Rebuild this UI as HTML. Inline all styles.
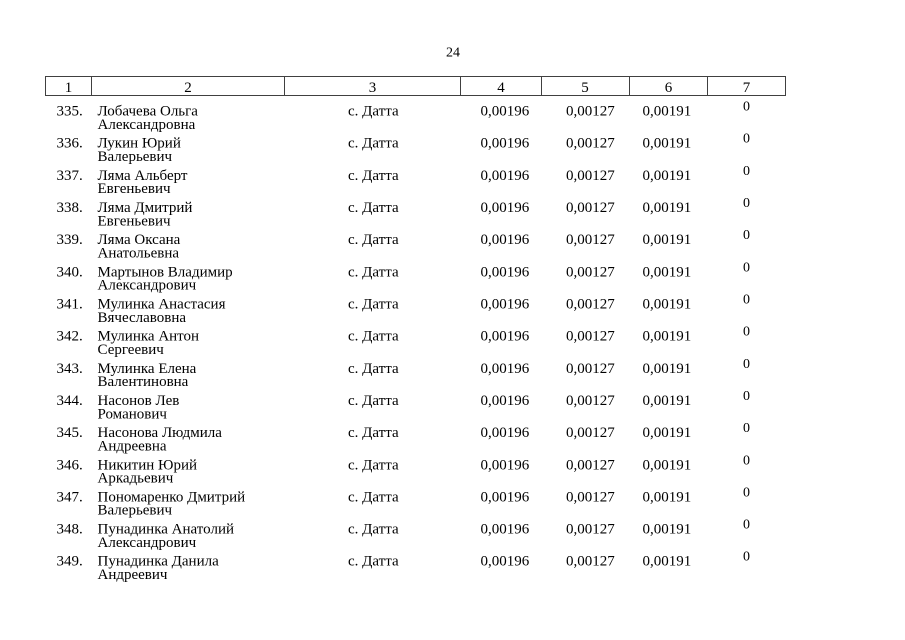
<!DOCTYPE html>
<html><head><meta charset="utf-8"><style>
html,body{margin:0;padding:0;background:#fff;}
svg{display:block;}
text{font-family:"Liberation Serif","Times New Roman",serif;fill:#000;}
</style></head><body>
<svg width="905" height="640" viewBox="0 0 905 640" xmlns="http://www.w3.org/2000/svg">
<rect x="0" y="0" width="905" height="640" fill="#fff"/>
<text x="446" y="56.5" font-size="14">24</text>
<g stroke="#404040" stroke-width="1" fill="none">
<rect x="45.5" y="76.5" width="740" height="19"/>
<line x1="91.5" y1="76.5" x2="91.5" y2="95.5"/>
<line x1="284.5" y1="76.5" x2="284.5" y2="95.5"/>
<line x1="460.5" y1="76.5" x2="460.5" y2="95.5"/>
<line x1="541.5" y1="76.5" x2="541.5" y2="95.5"/>
<line x1="629.5" y1="76.5" x2="629.5" y2="95.5"/>
<line x1="707.5" y1="76.5" x2="707.5" y2="95.5"/>
</g>
<g font-size="15" text-anchor="middle">
<text x="68.5" y="92">1</text>
<text x="188" y="92">2</text>
<text x="372.5" y="92">3</text>
<text x="501" y="92">4</text>
<text x="585" y="92">5</text>
<text x="668.5" y="92">6</text>
<text x="746.5" y="92">7</text>
</g>

<g font-size="15">
<g transform="translate(0,115.5)"><text x="56.5" y="0">335.</text><text x="97.5" y="0">Лобачева Ольга</text><text x="97.5" y="13.3">Александровна</text><text x="348" y="0">с. Датта</text><text x="480.5" y="0">0,00196</text><text x="566" y="0">0,00127</text><text x="642.5" y="0">0,00191</text><text x="743" y="-5" font-size="14">0</text></g>
<g transform="translate(0,147.7)"><text x="56.5" y="0">336.</text><text x="97.5" y="0">Лукин Юрий</text><text x="97.5" y="13.3">Валерьевич</text><text x="348" y="0">с. Датта</text><text x="480.5" y="0">0,00196</text><text x="566" y="0">0,00127</text><text x="642.5" y="0">0,00191</text><text x="743" y="-5" font-size="14">0</text></g>
<g transform="translate(0,179.8)"><text x="56.5" y="0">337.</text><text x="97.5" y="0">Ляма Альберт</text><text x="97.5" y="13.3">Евгеньевич</text><text x="348" y="0">с. Датта</text><text x="480.5" y="0">0,00196</text><text x="566" y="0">0,00127</text><text x="642.5" y="0">0,00191</text><text x="743" y="-5" font-size="14">0</text></g>
<g transform="translate(0,212.0)"><text x="56.5" y="0">338.</text><text x="97.5" y="0">Ляма Дмитрий</text><text x="97.5" y="13.3">Евгеньевич</text><text x="348" y="0">с. Датта</text><text x="480.5" y="0">0,00196</text><text x="566" y="0">0,00127</text><text x="642.5" y="0">0,00191</text><text x="743" y="-5" font-size="14">0</text></g>
<g transform="translate(0,244.2)"><text x="56.5" y="0">339.</text><text x="97.5" y="0">Ляма Оксана</text><text x="97.5" y="13.3">Анатольевна</text><text x="348" y="0">с. Датта</text><text x="480.5" y="0">0,00196</text><text x="566" y="0">0,00127</text><text x="642.5" y="0">0,00191</text><text x="743" y="-5" font-size="14">0</text></g>
<g transform="translate(0,276.3)"><text x="56.5" y="0">340.</text><text x="97.5" y="0">Мартынов Владимир</text><text x="97.5" y="13.3">Александрович</text><text x="348" y="0">с. Датта</text><text x="480.5" y="0">0,00196</text><text x="566" y="0">0,00127</text><text x="642.5" y="0">0,00191</text><text x="743" y="-5" font-size="14">0</text></g>
<g transform="translate(0,308.5)"><text x="56.5" y="0">341.</text><text x="97.5" y="0">Мулинка Анастасия</text><text x="97.5" y="13.3">Вячеславовна</text><text x="348" y="0">с. Датта</text><text x="480.5" y="0">0,00196</text><text x="566" y="0">0,00127</text><text x="642.5" y="0">0,00191</text><text x="743" y="-5" font-size="14">0</text></g>
<g transform="translate(0,340.6)"><text x="56.5" y="0">342.</text><text x="97.5" y="0">Мулинка Антон</text><text x="97.5" y="13.3">Сергеевич</text><text x="348" y="0">с. Датта</text><text x="480.5" y="0">0,00196</text><text x="566" y="0">0,00127</text><text x="642.5" y="0">0,00191</text><text x="743" y="-5" font-size="14">0</text></g>
<g transform="translate(0,372.8)"><text x="56.5" y="0">343.</text><text x="97.5" y="0">Мулинка Елена</text><text x="97.5" y="13.3">Валентиновна</text><text x="348" y="0">с. Датта</text><text x="480.5" y="0">0,00196</text><text x="566" y="0">0,00127</text><text x="642.5" y="0">0,00191</text><text x="743" y="-5" font-size="14">0</text></g>
<g transform="translate(0,405.0)"><text x="56.5" y="0">344.</text><text x="97.5" y="0">Насонов Лев</text><text x="97.5" y="13.3">Романович</text><text x="348" y="0">с. Датта</text><text x="480.5" y="0">0,00196</text><text x="566" y="0">0,00127</text><text x="642.5" y="0">0,00191</text><text x="743" y="-5" font-size="14">0</text></g>
<g transform="translate(0,437.1)"><text x="56.5" y="0">345.</text><text x="97.5" y="0">Насонова Людмила</text><text x="97.5" y="13.3">Андреевна</text><text x="348" y="0">с. Датта</text><text x="480.5" y="0">0,00196</text><text x="566" y="0">0,00127</text><text x="642.5" y="0">0,00191</text><text x="743" y="-5" font-size="14">0</text></g>
<g transform="translate(0,469.3)"><text x="56.5" y="0">346.</text><text x="97.5" y="0">Никитин Юрий</text><text x="97.5" y="13.3">Аркадьевич</text><text x="348" y="0">с. Датта</text><text x="480.5" y="0">0,00196</text><text x="566" y="0">0,00127</text><text x="642.5" y="0">0,00191</text><text x="743" y="-5" font-size="14">0</text></g>
<g transform="translate(0,501.4)"><text x="56.5" y="0">347.</text><text x="97.5" y="0">Пономаренко Дмитрий</text><text x="97.5" y="13.3">Валерьевич</text><text x="348" y="0">с. Датта</text><text x="480.5" y="0">0,00196</text><text x="566" y="0">0,00127</text><text x="642.5" y="0">0,00191</text><text x="743" y="-5" font-size="14">0</text></g>
<g transform="translate(0,533.6)"><text x="56.5" y="0">348.</text><text x="97.5" y="0">Пунадинка Анатолий</text><text x="97.5" y="13.3">Александрович</text><text x="348" y="0">с. Датта</text><text x="480.5" y="0">0,00196</text><text x="566" y="0">0,00127</text><text x="642.5" y="0">0,00191</text><text x="743" y="-5" font-size="14">0</text></g>
<g transform="translate(0,565.7)"><text x="56.5" y="0">349.</text><text x="97.5" y="0">Пунадинка Данила</text><text x="97.5" y="13.3">Андреевич</text><text x="348" y="0">с. Датта</text><text x="480.5" y="0">0,00196</text><text x="566" y="0">0,00127</text><text x="642.5" y="0">0,00191</text><text x="743" y="-5" font-size="14">0</text></g>
</g>
</svg>
</body></html>
